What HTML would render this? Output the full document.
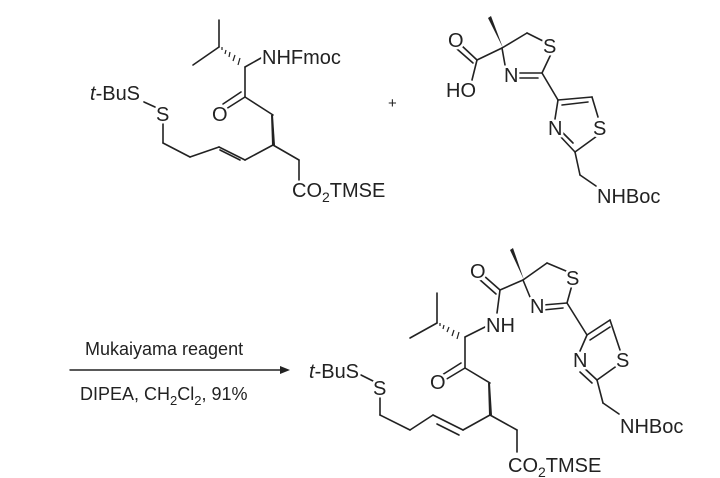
<!DOCTYPE html>
<html><head><style>
html,body{margin:0;padding:0;background:#fff;}
svg{display:block;}
text{font-family:"Liberation Sans",Arial,sans-serif;fill:#222;}
.lab text{stroke:#fff;stroke-width:5px;paint-order:stroke;stroke-linejoin:round;}
</style></head><body>
<svg width="720" height="478" viewBox="0 0 720 478" xmlns="http://www.w3.org/2000/svg">
<g stroke="#222" stroke-width="1.6" fill="none" stroke-linecap="round">
<line x1="219" y1="20" x2="219" y2="47"/>
<line x1="219" y1="47" x2="193" y2="65"/>
<line x1="245" y1="67" x2="261" y2="58"/>
<line x1="245" y1="67" x2="245" y2="97"/>
<line x1="245" y1="97" x2="226" y2="109"/>
<line x1="241" y1="92" x2="223" y2="104"/>
<line x1="245" y1="97" x2="273" y2="115"/>
<line x1="299" y1="160" x2="299" y2="182"/>
<line x1="273" y1="145" x2="299" y2="160"/>
<line x1="273" y1="145" x2="245" y2="160"/>
<line x1="245" y1="160" x2="219" y2="147"/>
<line x1="240" y1="160" x2="220" y2="150"/>
<line x1="219" y1="147" x2="190" y2="157"/>
<line x1="190" y1="157" x2="163" y2="143"/>
<line x1="163" y1="143" x2="163" y2="120"/>
<line x1="144" y1="102" x2="155" y2="107"/>
<line x1="502" y1="48" x2="527" y2="33"/>
<line x1="527" y1="33" x2="545" y2="42"/>
<line x1="551" y1="54" x2="542" y2="73"/>
<line x1="542" y1="73" x2="514" y2="73"/>
<line x1="538" y1="78" x2="515" y2="78"/>
<line x1="502" y1="48" x2="505" y2="65"/>
<line x1="502" y1="48" x2="477" y2="60"/>
<line x1="477" y1="60" x2="461" y2="45"/>
<line x1="473" y1="63" x2="457" y2="49"/>
<line x1="477" y1="60" x2="472" y2="80"/>
<line x1="542" y1="73" x2="558" y2="100"/>
<line x1="558" y1="100" x2="592" y2="97"/>
<line x1="562" y1="105" x2="588" y2="102"/>
<line x1="592" y1="97" x2="598" y2="117"/>
<line x1="597" y1="136" x2="575" y2="152"/>
<line x1="575" y1="152" x2="559" y2="135"/>
<line x1="573" y1="143" x2="561" y2="131"/>
<line x1="558" y1="100" x2="555" y2="119"/>
<line x1="575" y1="152" x2="580" y2="175"/>
<line x1="580" y1="175" x2="596" y2="186"/>
<line x1="523" y1="280" x2="547" y2="263"/>
<line x1="547" y1="263" x2="566" y2="271"/>
<line x1="572" y1="285" x2="567" y2="303"/>
<line x1="567" y1="303" x2="543" y2="305"/>
<line x1="563" y1="308" x2="543" y2="310"/>
<line x1="523" y1="280" x2="530" y2="297"/>
<line x1="523" y1="280" x2="500" y2="290"/>
<line x1="500" y1="290" x2="483" y2="275"/>
<line x1="496" y1="294" x2="479" y2="279"/>
<line x1="500" y1="290" x2="497" y2="313"/>
<line x1="465" y1="337" x2="485" y2="327"/>
<line x1="437" y1="293" x2="437" y2="323"/>
<line x1="437" y1="323" x2="410" y2="338"/>
<line x1="465" y1="337" x2="465" y2="368"/>
<line x1="465" y1="368" x2="445" y2="380"/>
<line x1="461" y1="363" x2="442" y2="375"/>
<line x1="465" y1="368" x2="490" y2="383"/>
<line x1="490" y1="415" x2="517" y2="430"/>
<line x1="517" y1="430" x2="517" y2="452"/>
<line x1="490" y1="415" x2="463" y2="430"/>
<line x1="463" y1="430" x2="433" y2="415"/>
<line x1="459" y1="435" x2="437" y2="424"/>
<line x1="433" y1="415" x2="410" y2="430"/>
<line x1="410" y1="430" x2="380" y2="415"/>
<line x1="380" y1="415" x2="380" y2="395"/>
<line x1="361" y1="375" x2="373" y2="381"/>
<line x1="567" y1="303" x2="587" y2="335"/>
<line x1="587" y1="335" x2="610" y2="320"/>
<line x1="590" y1="340" x2="610" y2="327"/>
<line x1="610" y1="320" x2="620" y2="350"/>
<line x1="618" y1="365" x2="597" y2="380"/>
<line x1="597" y1="380" x2="582" y2="366"/>
<line x1="592" y1="383" x2="580" y2="372"/>
<line x1="587" y1="335" x2="580" y2="351"/>
<line x1="597" y1="380" x2="603" y2="403"/>
<line x1="603" y1="403" x2="619" y2="414"/>
<line x1="70" y1="370" x2="282" y2="370" stroke-width="1.4"/>
</g>
<g fill="#222" stroke="none">
<polygon points="273,115 271,115 272,145 275,145"/>
<polygon points="488,18 491,16 503,48"/>
<polygon points="490,383 488,383 489,415 492,415"/>
<polygon points="510,250 513,248 524,280"/>
<polygon points="290,370 280,366 280,374"/>
</g>
<g stroke="#222" stroke-width="1.2">
<line x1="222" y1="47" x2="222" y2="50"/><line x1="226" y1="50" x2="225" y2="54"/><line x1="230" y1="52" x2="229" y2="57"/><line x1="235" y1="55" x2="233" y2="61"/><line x1="240" y1="58" x2="238" y2="65"/>
<line x1="440" y1="323" x2="440" y2="326"/><line x1="444" y1="325" x2="443" y2="329"/><line x1="449" y1="327" x2="447" y2="332"/><line x1="454" y1="330" x2="452" y2="336"/><line x1="459" y1="332" x2="457" y2="339"/>
</g>
<g font-size="20" class="lab">
<text x="262" y="64">NHFmoc</text>
<text x="212" y="121">O</text>
<text x="90" y="100"><tspan font-style="italic">t</tspan>-BuS</text>
<text x="156" y="121">S</text>
<text x="292" y="197">CO<tspan font-size="14" dy="5">2</tspan><tspan dy="-5">TMSE</tspan></text>
<text x="448" y="47">O</text>
<text x="446" y="97">HO</text>
<text x="504" y="82">N</text>
<text x="543" y="53">S</text>
<text x="548" y="135">N</text>
<text x="593" y="135">S</text>
<text x="597" y="203">NHBoc</text>
<text x="470" y="278">O</text>
<text x="486" y="332">NH</text>
<text x="530" y="313">N</text>
<text x="566" y="285">S</text>
<text x="430" y="389">O</text>
<text x="309" y="378"><tspan font-style="italic">t</tspan>-BuS</text>
<text x="373" y="395">S</text>
<text x="573" y="367">N</text>
<text x="616" y="367">S</text>
<text x="620" y="433">NHBoc</text>
<text x="508" y="472">CO<tspan font-size="14" dy="5">2</tspan><tspan dy="-5">TMSE</tspan></text>
</g>
<text x="388" y="108" font-size="15">+</text>
<text x="85" y="355" font-size="18">Mukaiyama reagent</text>
<text x="80" y="400" font-size="18">DIPEA, CH<tspan font-size="13" dy="5">2</tspan><tspan dy="-5">Cl</tspan><tspan font-size="13" dy="5">2</tspan><tspan dy="-5">, 91%</tspan></text>
</svg>
</body></html>
